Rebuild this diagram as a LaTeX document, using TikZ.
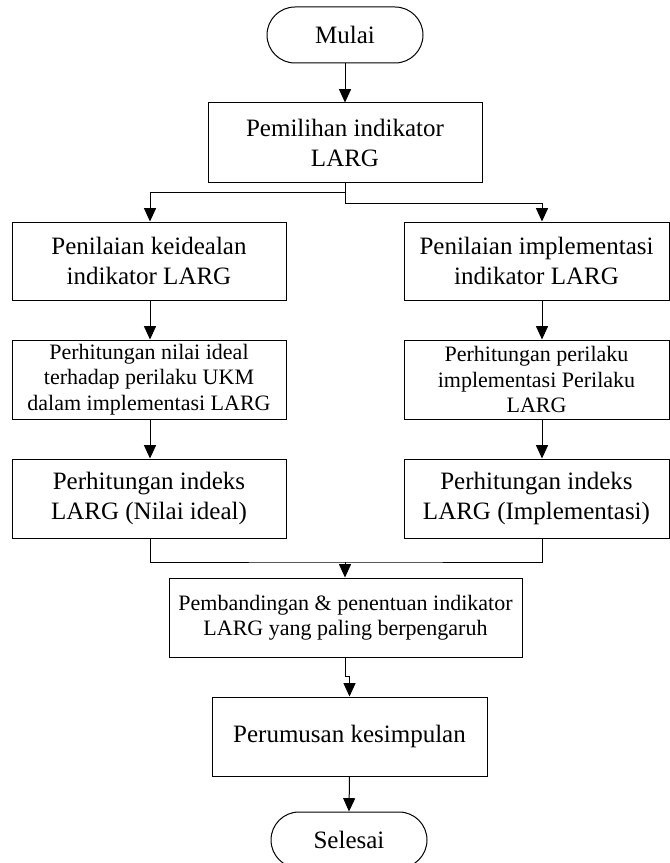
\documentclass[tikz,border=0pt]{standalone}
\usepackage{fontspec}
\setmainfont{Liberation Serif}
\usetikzlibrary{arrows.meta}
\begin{document}
\begin{tikzpicture}[x=0.75pt,y=-0.75pt,
  box/.style={draw,line width=0.75pt,align=center,inner sep=0pt,
    font=\fontsize{18.75}{22.5}\selectfont},
  smallbox/.style={box,font=\fontsize{16.5}{19}\selectfont},
  term/.style={box,rounded corners=21pt,minimum width=117pt,minimum height=42pt},
  arr/.style={line width=0.75pt,-{Triangle[length=10pt,width=9pt]}},
  ln/.style={line width=0.75pt}]
\useasboundingbox (0,0) rectangle (670,863);

\coordinate (rc) at (542,0);
\coordinate (lc) at (150,0);

\node[term] (start) at (345,35) {Mulai};
\node[box,minimum width=205.5pt,minimum height=59.25pt] (pem) at (345,142.5) {Pemilihan indikator\\LARG};

\node[box,minimum width=205.5pt,minimum height=58.5pt] (L1) at (149,261) {Penilaian keidealan\\indikator LARG};
\node[box,minimum width=198.75pt,minimum height=58.5pt] (R1) at (536.5,261) {Penilaian implementasi\\indikator LARG};

\node[smallbox,minimum width=205.5pt,minimum height=59.25pt] (L2) at (149,379.5) {Perhitungan nilai ideal\\terhadap perilaku UKM\\dalam implementasi LARG};
\node[smallbox,minimum width=198.75pt,minimum height=59.25pt] (R2) at (536.5,379.5) {Perhitungan perilaku\\implementasi Perilaku\\LARG};

\node[box,minimum width=205.5pt,minimum height=59.25pt] (L3) at (149,498.5) {Perhitungan indeks\\LARG (Nilai ideal)};
\node[box,minimum width=198.75pt,minimum height=59.25pt] (R3) at (536.5,498.5) {Perhitungan indeks\\LARG (Implementasi)};

\node[smallbox,minimum width=264.75pt,minimum height=59.25pt] (cmp) at (345.5,617.5) {Pembandingan \& penentuan indikator\\LARG yang paling berpengaruh};
\node[box,minimum width=206.25pt,minimum height=59.25pt] (per) at (349.5,736.5) {Perumusan kesimpulan};
\node[term] (end) at (349,840) {Selesai};

\coordinate (m) at (345,562);

\draw[arr] (start.south) -- (pem.north);
\draw[arr] (pem.south) -- ++(0,10) -| (lc |- L1.north);
\draw[arr] (pem.south) -- ++(0,21) -| (rc |- R1.north);

\draw[arr] (lc |- L1.south) -- (lc |- L2.north);
\draw[arr] (rc |- R1.south) -- (rc |- R2.north);
\draw[arr] (lc |- L2.south) -- (lc |- L3.north);
\draw[arr] (rc |- R2.south) -- (rc |- R3.north);

\draw[ln] (lc |- L3.south) |- (m) -| (rc |- R3.south);
\draw[arr] (m) -- (m |- cmp.north);

\draw[arr] (m |- cmp.south) -- ++(0,19) -| (per.north);
\draw[arr] (per.south) -- (end.north);
\end{tikzpicture}
\end{document}
